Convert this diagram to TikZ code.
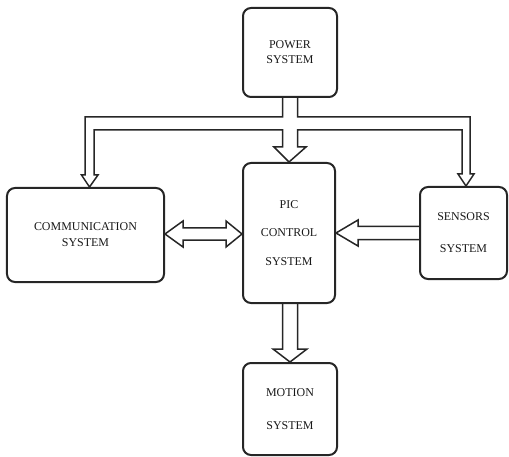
\documentclass[tikz,border=0pt]{standalone}
\usepackage{fontspec}
\setmainfont{Liberation Serif}
\usetikzlibrary{calc}
\tikzset{
  box/.style={draw=black!85, line width=2bp, rounded corners=8bp, align=center,
    text=black!90, font=\fontsize{12}{14}\selectfont, inner sep=0pt},
  hollow/.style={draw=black!85, line width=1.5bp, line join=miter}
}
\begin{document}
\begin{tikzpicture}[x=1bp,y=-1bp]
    \useasboundingbox (0,0) rectangle (509,457);
    \node[box, minimum width=94bp, minimum height=89bp] (power) at (290,52.5) {POWER\\[1pt]SYSTEM};
    \node[box, minimum width=92bp, minimum height=140bp] (pic) at (289,233) {PIC\\[15pt]CONTROL\\[15pt]SYSTEM};
    \node[box, minimum width=157bp, minimum height=94bp] (comm) at (85.5,235) {COMMUNICATION\\[2pt]SYSTEM};
    \node[box, minimum width=87bp, minimum height=92bp] (sens) at (463.5,233) {SENSORS\\[18pt]SYSTEM};
    \node[box, minimum width=94bp, minimum height=92bp] (motion) at (290,409) {MOTION\\[19pt]SYSTEM};

    \draw[hollow] let \p1=(power.south), \p2=(comm.north), \p3=(pic.north), \p4=(sens.north) in
        (\x1-7.5bp,\y1) -- (\x1-7.5bp,\y1-19bp) -- (\x2-0.5bp,\y1-19bp) -- (\x2-0.5bp,\y2+12bp)
        -- (\x2-4bp,\y2+12bp) -- (\x2+4bp,\y2) -- (\x2+12.5bp,\y2+12bp) -- (\x2+8.5bp,\y2+12bp)
        -- (\x2+8.5bp,\y1-32bp) -- (\x1-7.5bp,\y1-32bp) -- (\x1-7.5bp,\y3+15bp) -- (\x1-16bp,\y3+15bp)
        -- (\x3,\y3) -- (\x1+16bp,\y3+15bp) -- (\x1+7.5bp,\y3+15bp) -- (\x1+7.5bp,\y1-32bp)
        -- (\x4-1.5bp,\y1-32bp) -- (\x4-1.5bp,\y4+12bp) -- (\x4-5.5bp,\y4+12bp) -- (\x4+2.5bp,\y4)
        -- (\x4+10.5bp,\y4+12bp) -- (\x4+6.5bp,\y4+12bp) -- (\x4+6.5bp,\y1-19bp) -- (\x1+7.5bp,\y1-19bp)
        -- (\x1+7.5bp,\y1);

    \draw[hollow] let \p1=(comm.east), \p2=(pic.west) in
        (\x1,\y1+1bp) -- (\x1+18bp,\y1+14bp) -- (\x1+18bp,\y1+7bp) -- (\x2-16bp,\y1+7bp)
        -- (\x2-16bp,\y1+14bp) -- (\x2,\y1+1bp) -- (\x2-16bp,\y1-12bp) -- (\x2-16bp,\y1-5bp)
        -- (\x1+18bp,\y1-5bp) -- (\x1+18bp,\y1-12bp) -- cycle;

    \draw[hollow] let \p1=(sens.west), \p2=(pic.east) in
        (\x1,\y1+6.5bp) -- (\x2+22bp,\y1+6.5bp) -- (\x2+22bp,\y1+13bp) -- (\x2,\y1)
        -- (\x2+22bp,\y1-13bp) -- (\x2+22bp,\y1-6.5bp) -- (\x1,\y1-6.5bp);

    \draw[hollow] let \p1=(pic.south), \p2=(motion.north) in
        (\x1-6.5bp,\y1) -- (\x1-6.5bp,\y2+13bp) -- (\x1-16bp,\y2+13bp) -- (\x2,\y2)
        -- (\x1+18bp,\y2+13bp) -- (\x1+8.5bp,\y2+13bp) -- (\x1+8.5bp,\y1);
\end{tikzpicture}
\end{document}
